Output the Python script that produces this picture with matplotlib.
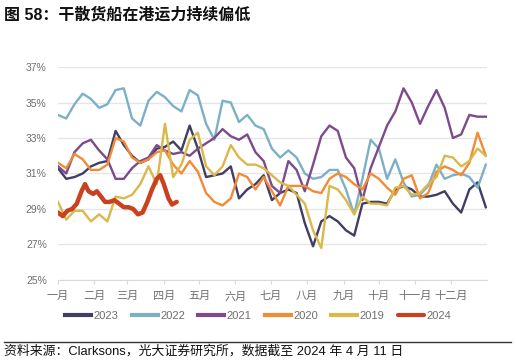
import matplotlib.pyplot as plt
from matplotlib.lines import Line2D
import numpy as np

plt.rcParams['font.family'] = ['Liberation Sans', 'Noto Sans CJK SC']

# 每周一个点（年内第几天）
days = np.arange(0, 365, 7)

v2023 = [31.3, 30.7, 30.8, 31.0, 31.4, 31.6, 31.7, 33.4, 32.6, 32.0,
         31.6, 31.8, 32.4, 32.5, 32.8, 32.3, 33.7, 32.4, 30.8, 30.9,
         31.0, 31.4, 29.6, 30.1, 30.4, 30.9, 29.5, 29.9, 30.1, 29.9,
         28.2, 26.9, 28.3, 28.6, 28.3, 27.8, 27.5, 29.3, 29.4, 29.4,
         29.3, 30.1, 30.3, 30.1, 29.7, 29.7, 29.8, 30.0, 29.3, 28.8,
         30.1, 30.5, 29.1]
v2022 = [34.3, 34.1, 34.9, 35.5, 35.2, 34.7, 34.9, 35.7, 35.8, 34.1,
         33.7, 35.1, 35.6, 35.3, 34.8, 34.5, 35.7, 35.4, 33.8, 32.9,
         35.1, 35.0, 33.9, 34.3, 33.7, 33.5, 32.4, 31.9, 32.3, 31.9,
         31.0, 30.7, 30.8, 31.2, 31.2, 30.1, 28.7, 30.7, 32.9, 32.4,
         30.7, 31.8, 30.5, 29.7, 29.8, 30.3, 31.5, 30.7, 30.9, 31.0,
         30.8, 30.2, 31.5]
v2021 = [31.4, 31.0, 32.2, 32.7, 32.9, 32.3, 31.8, 30.7, 30.7, 31.3,
         31.7, 31.9, 32.6, 32.3, 32.1, 32.2, 32.0, 32.4, 32.7, 33.0,
         33.5, 33.1, 32.9, 33.2, 32.2, 31.7, 30.3, 29.9, 31.7, 31.2,
         30.0, 31.5, 33.1, 33.7, 33.4, 31.9, 31.3, 29.5, 31.3, 32.5,
         33.7, 34.5, 35.8, 35.0, 33.8, 34.8, 35.7, 34.7, 33.0, 33.2,
         34.3, 34.2, 34.2]
v2020 = [31.6, 31.3, 32.1, 31.8, 31.2, 31.2, 31.5, 33.0, 32.8, 31.9,
         31.6, 31.8, 32.2, 32.3, 31.5, 31.0, 31.7, 31.1, 29.9, 29.4,
         29.2, 29.6, 31.0, 30.8, 30.1, 30.8, 30.0, 29.2, 30.3, 30.3,
         30.3, 30.0, 29.9, 30.7, 31.0, 30.8, 30.4, 30.1, 31.0, 30.7,
         30.2, 29.8, 30.7, 30.9, 29.6, 29.9, 31.1, 31.4, 31.2, 30.9,
         31.6, 33.3, 32.0]
v2019 = [29.4, 28.4, 28.9, 28.9, 28.3, 28.7, 28.3, 29.7, 29.6, 29.8,
         30.4, 31.4, 30.4, 33.8, 30.8, 31.5, 32.9, 33.3, 31.4, 30.9,
         31.4, 32.6, 31.9, 31.5, 31.5, 31.3, 30.9, 30.5, 30.3, 29.8,
         29.3, 27.8, 26.8, 30.3, 30.1, 29.5, 28.7, 29.7, 29.3, 29.3,
         29.2, 30.2, 30.3, 29.8, 29.9, 30.4, 30.8, 32.0, 31.9, 31.4,
         31.7, 32.4, 32.0]

# 2024 年数据截至 4 月 11 日
days_2024 = [0, 4, 8, 12, 16, 20, 23, 26, 30, 33, 36, 40, 44, 48, 52, 56,
             60, 64, 68, 72, 76, 80, 84, 87, 90, 94, 97, 101]
v2024 = [28.8, 28.6, 28.9, 29.0, 29.3, 30.0, 30.4, 30.0, 29.85, 30.0, 29.75,
         29.4, 29.4, 29.5, 29.3, 29.1, 29.1, 29.0, 28.7, 28.8, 29.4, 30.1,
         30.7, 30.9, 30.4, 29.6, 29.25, 29.4]

series = [('2023', v2023, '#403e64'), ('2022', v2022, '#7cb0c6'),
          ('2021', v2021, '#7d4a8b'), ('2020', v2020, '#f28b36'),
          ('2019', v2019, '#dab84b')]

month_starts = [0, 31, 59, 90, 120, 151, 181, 212, 243, 273, 304, 334]
month_labels = ['一月', '二月', '三月', '四月', '五月', '六月',
                '七月', '八月', '九月', '十月', '十一月', '十二月']

fig = plt.figure(figsize=(5.16, 3.63), dpi=100)
ax = fig.add_axes([0.1124, 0.2287, 0.8314, 0.5867])

for name, vals, col in series:
    ax.plot(days, vals, color=col, lw=1.7, label=name)
ax.plot(days_2024, v2024, color='#c9411f', lw=3.2, label='2024',
        solid_capstyle='round')

ax.set_xlim(0, 365)
ax.set_ylim(25, 37)
ax.set_yticks(np.arange(25, 38, 2))
ax.set_yticklabels([f'{v}%' for v in range(25, 38, 2)])
ax.set_xticks(month_starts)
ax.set_xticklabels(month_labels)
ax.grid(axis='y', color='#e6e6e6', lw=1)
ax.set_axisbelow(True)
for s in ['top', 'right', 'left']:
    ax.spines[s].set_visible(False)
ax.spines['bottom'].set_color('#d9d9d9')
ax.tick_params(axis='y', length=0, labelsize=7.5, labelcolor='#6e6e6e', pad=8)
ax.tick_params(axis='x', length=3, color='#d9d9d9', labelsize=8,
               labelcolor='#6e6e6e', pad=5)

leg = fig.legend(loc='center', bbox_to_anchor=(0.5, 0.13), ncol=6,
                 frameon=False, fontsize=8, handlelength=2.35,
                 handletextpad=0.2, columnspacing=1.2, labelcolor='#6e6e6e')
for ln in leg.get_lines():
    ln.set_linewidth(3)

fig.text(0.008, 0.958, '图 58：干散货船在港运力持续偏低', fontsize=11.5,
         fontweight='bold', va='center', ha='left', color='#111111')
fig.add_artist(Line2D([0.008, 0.99], [0.058, 0.058], transform=fig.transFigure,
                      color='#333333', lw=1))
fig.text(0.008, 0.033, '资料来源：Clarksons，光大证券研究所，数据截至 2024 年 4 月 11 日',
         fontsize=9.3, va='center', ha='left', color='#111111')

fig.savefig('out.png', dpi=100)
